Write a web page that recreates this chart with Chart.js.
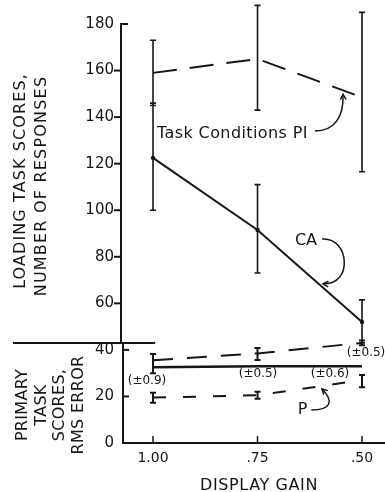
<!DOCTYPE html>
<html>
<head>
<meta charset="utf-8">
<title>Display gain</title>
<style>
  html, body { margin: 0; padding: 0; background: #ffffff; }
  canvas { display: block; }
</style>
</head>
<body>
<canvas id="chart" width="385" height="492"></canvas>
<script src="https://cdn.jsdelivr.net/npm/chart.js@4.4.1/dist/chart.umd.min.js"></script>
<script>
// Display gain settings (x axis runs from 1.00 down to .50)
const gains = [1.00, 0.75, 0.50];
const gainLabels = ['1.00', '.75', '.50'];
const yTickValues = [0, 20, 40, 60, 80, 100, 120, 140, 160, 180];

// Loading task scores, number of responses
const loadPI = [159, 165, 148.5];
const loadPILow = [145, 143, 116.5];
const loadPIHigh = [173, 188, 185];
const loadCA = [122.5, 91.5, 52];
const loadCALow = [100, 73, 43];
const loadCAHigh = [146, 111, 61.5];

// Primary task scores, RMS error
const primPI = [35.5, 38.5, 43];
const primPILow = [30, 35.7, 42];
const primPIHigh = [38.2, 40.8, 44];
const primCA = [32.5, 33, 33];
const primP = [19.5, 20.5, 27];
const primPLow = [17.3, 19, 24];
const primPHigh = [21.6, 22, 29.2];
const errorNotes = ['(±0.9)', '(±0.5)', '(±0.6)', '(±0.5)'];

const INK = '#161616';
const FONT = '"DejaVu Sans", sans-serif';
const SPLIT = 43; // boundary between the two panels

const pts = vals => gains.map((g, i) => ({ x: g, y: vals[i] }));

function lineAt(vals, g) {
  for (let i = 0; i < gains.length - 1; i++) {
    const a = gains[i], b = gains[i + 1];
    if (g <= a && g >= b) {
      const t = (a - g) / (a - b);
      return vals[i] + t * (vals[i + 1] - vals[i]);
    }
  }
  return vals[vals.length - 1];
}

function seg(ctx, x0, y0, x1, y1) {
  ctx.beginPath(); ctx.moveTo(x0, y0); ctx.lineTo(x1, y1); ctx.stroke();
}

function text(ctx, str, x, y, size, align, spacing, rotate) {
  ctx.save();
  ctx.translate(x, y);
  if (rotate) ctx.rotate(-Math.PI / 2);
  ctx.font = size + 'px ' + FONT;
  ctx.letterSpacing = (spacing || 0) + 'px';
  ctx.textAlign = align || 'center';
  ctx.textBaseline = 'alphabetic';
  ctx.fillStyle = INK;
  ctx.fillText(str, 0, 0.365 * size);
  const w = ctx.measureText(str).width;
  ctx.restore();
  return w;
}

function curveArrow(ctx, p0, c1, c2, p3) {
  ctx.beginPath();
  ctx.moveTo(p0[0], p0[1]);
  ctx.bezierCurveTo(c1[0], c1[1], c2[0], c2[1], p3[0], p3[1]);
  ctx.stroke();
  const ang = Math.atan2(p3[1] - c2[1], p3[0] - c2[0]);
  const L = 6;
  ctx.beginPath();
  ctx.moveTo(p3[0] - L * Math.cos(ang - 0.5), p3[1] - L * Math.sin(ang - 0.5));
  ctx.lineTo(p3[0], p3[1]);
  ctx.lineTo(p3[0] - L * Math.cos(ang + 0.5), p3[1] - L * Math.sin(ang + 0.5));
  ctx.stroke();
}

const decor = {
  id: 'decor',
  afterDatasetsDraw(chart) {
    const { ctx, scales: { x, y } } = chart;
    const bars = [
      [loadPILow, loadPIHigh, 1.6],
      [loadCALow, loadCAHigh, 1.6],
      [primPILow, primPIHigh, 2],
      [primPLow, primPHigh, 2]
    ];
    ctx.save();
    ctx.strokeStyle = INK;
    bars.forEach(([lo, hi, w]) => {
      ctx.lineWidth = w;
      gains.forEach((g, i) => {
        const px = x.getPixelForValue(g);
        const y0 = y.getPixelForValue(lo[i]);
        const y1 = y.getPixelForValue(hi[i]);
        ctx.beginPath();
        ctx.moveTo(px, y0); ctx.lineTo(px, y1);
        ctx.moveTo(px - 3, y0); ctx.lineTo(px + 3, y0);
        ctx.moveTo(px - 3, y1); ctx.lineTo(px + 3, y1);
        ctx.stroke();
      });
    });
    ctx.restore();
  },
  afterDraw(chart) {
    const { ctx, chartArea, scales: { x, y } } = chart;
    const left = chartArea.left, right = chartArea.right;
    const yTop = y.getPixelForValue(180);
    const ySplit = y.getPixelForValue(SPLIT);
    const yZero = y.getPixelForValue(0);
    ctx.save();
    ctx.strokeStyle = INK;
    ctx.lineCap = 'butt';

    // upper (loading) axis with outward ticks
    ctx.lineWidth = 2;
    ctx.beginPath();
    ctx.moveTo(left + 5, yTop); ctx.lineTo(left - 2, yTop); ctx.lineTo(left - 2, ySplit);
    ctx.stroke();
    yTickValues.filter(v => v >= 60 && v < 180).forEach(v => {
      const py = y.getPixelForValue(v);
      seg(ctx, left - 9, py, left - 2, py);
    });
    // panel separator
    seg(ctx, 13, ySplit, x.getPixelForValue(0.995), ySplit);
    // lower (primary) axis with inward ticks
    seg(ctx, left, ySplit, left, yZero + 1);
    yTickValues.filter(v => v > 0 && v <= 40).forEach(v => {
      const py = y.getPixelForValue(v);
      seg(ctx, left, py, left + 6, py);
    });
    // x axis
    seg(ctx, left, yZero, right, yZero);
    ctx.lineWidth = 1.5;
    gains.forEach(g => {
      const px = x.getPixelForValue(g);
      seg(ctx, px, yZero, px, yZero - 7);
    });

    // axis titles
    text(ctx, 'LOADING TASK SCORES,', 19, 181, 16, 'center', 1.1, true);
    text(ctx, 'NUMBER OF RESPONSES', 40, 186, 16, 'center', 1.2, true);
    ['PRIMARY', 'TASK', 'SCORES,', 'RMS ERROR'].forEach((t, i) => {
      text(ctx, t, 21 + i * 18.8, 405, 16, 'center', 0.3, true);
    });
    text(ctx, 'DISPLAY GAIN', 259, 484, 16, 'center', 0.6, false);

    // series callouts
    const P = (g, v) => [x.getPixelForValue(g), y.getPixelForValue(v)];
    ctx.lineWidth = 1.5;

    const piAt = P(0.9905, 133.6);
    const piW = text(ctx, 'Task Conditions PI', piAt[0], piAt[1], 16, 'left', 0.4, false);
    const piStart = [piAt[0] + piW + 7, piAt[1] - 1];
    const piTipG = 0.5455;
    const piTip = P(piTipG, lineAt(loadPI, piTipG));
    piTip[1] += 4;
    curveArrow(ctx, piStart, [piStart[0] + 20, piStart[1]], [piTip[0] + 1, piTip[1] + 22], piTip);

    const caAt = P(0.634, 87.6);
    const caW = text(ctx, 'CA', caAt[0], caAt[1], 16, 'center', 0, false);
    const caStart = [caAt[0] + caW / 2 + 5, caAt[1]];
    const caTipG = 0.5957;
    const caTip = P(caTipG, lineAt(loadCA, caTipG));
    caTip[0] += 1; caTip[1] -= 3;
    curveArrow(ctx, caStart, [caStart[0] + 28, caStart[1] - 2], [caTip[0] + 30, caTip[1] + 2], caTip);

    const pAt = P(0.6424, 15);
    const pW = text(ctx, 'P', pAt[0], pAt[1], 16, 'center', 0, false);
    const pStart = [pAt[0] + pW / 2 + 4, pAt[1] + 2];
    const pTipG = 0.5957;
    const pTip = P(pTipG, lineAt(primP, pTipG));
    pTip[1] += 3;
    curveArrow(ctx, pStart, [pStart[0] + 20, pStart[1]], [pTip[0] + 12, pTip[1] + 12], pTip);

    // standard error notes on the primary task points
    const notePos = [[1.0144, 27.1], [0.7488, 30.2], [0.5766, 30.3], [0.4904, 39.2]];
    errorNotes.forEach((t, i) => {
      const q = P(notePos[i][0], notePos[i][1]);
      text(ctx, t, q[0], q[1], 12, 'center', 0, false);
    });
    ctx.restore();
  }
};

new Chart(document.getElementById('chart'), {
  type: 'line',
  data: {
    datasets: [
      { label: 'PI loading', data: pts(loadPI), borderColor: INK, borderWidth: 2,
        borderDash: [24, 13], pointRadius: 0, clip: false },
      { label: 'CA loading', data: pts(loadCA), borderColor: INK, borderWidth: 2,
        pointRadius: 2.2, pointBackgroundColor: INK, pointBorderWidth: 0, clip: false },
      { label: 'PI primary', data: pts(primPI), borderColor: INK, borderWidth: 2,
        borderDash: [20, 14], pointRadius: 0, clip: false },
      { label: 'CA primary', data: pts(primCA), borderColor: INK, borderWidth: 2.5,
        pointRadius: 0, clip: false },
      { label: 'P primary', data: pts(primP), borderColor: INK, borderWidth: 2,
        borderDash: [13, 17], pointRadius: 0, clip: false }
    ]
  },
  options: {
    responsive: false,
    animation: false,
    events: [],
    layout: { autoPadding: false, padding: { top: 24, right: 0, bottom: 0, left: 0 } },
    plugins: { legend: { display: false }, tooltip: { enabled: false } },
    scales: {
      x: {
        type: 'linear', reverse: true, min: 0.445, max: 1.0718,
        afterBuildTicks: s => { s.ticks = gains.map(v => ({ value: v })); },
        afterFit: s => { s.height = 49; s.paddingLeft = 0; s.paddingRight = 0; },
        ticks: {
          callback: (v, i) => gainLabels[i],
          font: { family: FONT, size: 14 }, color: INK, padding: 7,
          autoSkip: false, maxRotation: 0
        },
        grid: { display: false, drawTicks: false },
        border: { display: false }
      },
      y: {
        type: 'linear', min: 0, max: 180,
        afterBuildTicks: s => { s.ticks = yTickValues.map(v => ({ value: v })); },
        afterFit: s => { s.width = 123; s.paddingTop = 0; s.paddingBottom = 0; },
        ticks: { font: { family: FONT, size: 15 }, color: INK, padding: 9 },
        grid: { display: false, drawTicks: false },
        border: { display: false }
      }
    }
  },
  plugins: [decor]
});
</script>
</body>
</html>
